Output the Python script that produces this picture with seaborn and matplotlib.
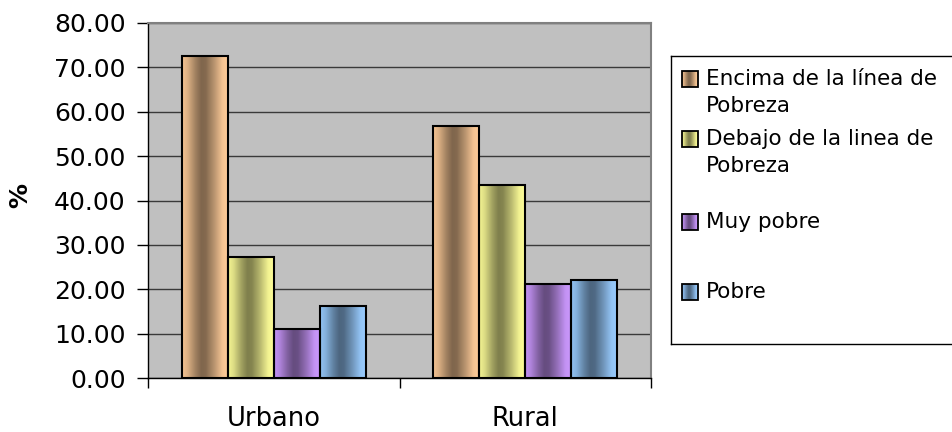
import textwrap
import numpy as np
import pandas as pd
import matplotlib
matplotlib.use("Agg")
import matplotlib.pyplot as plt
import seaborn as sns
from matplotlib.colors import to_rgb
from matplotlib.patches import Rectangle

# -------------------------------
# DATA
# -------------------------------
zonas = ["Urbano", "Rural"]
grupos = ["Encima de la línea de Pobreza", "Debajo de la linea de Pobreza",
          "Muy pobre", "Pobre"]
urbano = [72.6, 27.3, 11.0, 16.2]
rural = [56.8, 43.5, 21.2, 22.1]
y_ticks = [0, 10, 20, 30, 40, 50, 60, 70, 80]

colores = ["#FFCC99", "#FFFF99", "#CC99FF", "#99CCFF"]

df = pd.DataFrame({
    "zona": np.repeat(zonas, len(grupos)),
    "grupo": grupos * len(zonas),
    "valor": urbano + rural,
})

# brightness profile across a bar (cylinder look)
perfil_t = [0.0, 0.12, 0.30, 0.42, 0.52, 0.70, 0.88, 1.0]
perfil_b = [0.96, 0.86, 0.62, 0.50, 0.52, 0.72, 0.95, 1.0]


def gradiente(color, n=64):
    t = np.linspace(0, 1, n)
    b = np.interp(t, perfil_t, perfil_b)
    rgb = np.array(to_rgb(color))
    return np.clip(b[:, None] * rgb[None, :], 0, 1)[None, :, :]


# -------------------------------
# PLOT
# -------------------------------
sns.set_style("white", {"text.color": "black", "axes.labelcolor": "black",
                        "xtick.color": "black", "ytick.color": "black"})
plt.rcParams["font.family"] = ["DejaVu Sans"]

W, H = 952, 432
fig = plt.figure(figsize=(W / 100, H / 100), dpi=100)
ax = fig.add_axes([148 / W, 1 - 378 / H, (651 - 148) / W, (378 - 23) / H])
ax.set_facecolor("#C0C0C0")
ax.set_axisbelow(True)

sns.barplot(data=df, x="zona", y="valor", hue="grupo", order=zonas,
            hue_order=grupos, palette=colores, saturation=1, width=0.73,
            legend=False, ax=ax)

for p in list(ax.patches):
    x0, y0 = p.get_x(), p.get_y()
    w, h = p.get_width(), p.get_height()
    im = ax.imshow(gradiente(p.get_facecolor()[:3]),
                   extent=[x0, x0 + w, y0, y0 + h], aspect="auto",
                   interpolation="bilinear", zorder=3)
    im.set_clip_path(p)
    p.set_facecolor("none")
    p.set_edgecolor("black")
    p.set_linewidth(1.5)
    p.set_zorder(4)

ax.set_xlim(-0.5, 1.5)
ax.set_ylim(0, 80)
ax.set_aspect("auto")

ax.set_yticks(y_ticks)
ax.set_yticklabels([f"{v:.2f}" for v in y_ticks])
ax.yaxis.grid(True, color="#3a3a3a", lw=1)
ax.tick_params(axis="y", direction="out", length=8, width=1, color="black",
               labelcolor="black", labelsize=18, pad=8, left=True)

ax.set_xticks([0, 1])
ax.set_xticklabels(zonas)
ax.set_xticks([-0.5, 0.5, 1.5], minor=True)
ax.tick_params(axis="x", which="major", length=0, labelsize=18.5, pad=20,
               labelcolor="black")
ax.tick_params(axis="x", which="minor", direction="out", length=7, width=1,
               color="black", bottom=True)

ax.set_xlabel("")
ax.set_ylabel("%", fontsize=18, fontweight="bold", color="black")
ax.yaxis.set_label_coords(-0.231, 0.515)

for s in ["left", "bottom"]:
    ax.spines[s].set_color("black")
    ax.spines[s].set_linewidth(1)
for s in ["top", "right"]:
    ax.spines[s].set_color("#808080")
    ax.spines[s].set_linewidth(1.5)

# -------------------------------
# LEGEND (drawn by hand, gradient swatches)
# -------------------------------
lg = fig.add_axes([671 / W, 1 - 344 / H, 310 / W, 288 / H])
lg.set_xticks([])
lg.set_yticks([])
lg.set_facecolor("white")
for s in lg.spines.values():
    s.set_color("black")
    s.set_linewidth(1)

baselines = [29, 89, 172, 242]
for grupo, color, yb in zip(grupos, colores, baselines):
    yc = yb - 6
    r = Rectangle((11, yc - 8), 16, 16, facecolor="none",
                  edgecolor="black", lw=1.3, zorder=4)
    lg.add_patch(r)
    im = lg.imshow(gradiente(color), extent=[11, 27, yc + 8, yc - 8],
                   aspect="auto", interpolation="bilinear", zorder=3)
    im.set_clip_path(r)
    for k, linea in enumerate(textwrap.wrap(grupo, 21)):
        lg.text(35, yb + 26.7 * k, linea, fontsize=15.5, ha="left",
                va="baseline", color="black")
lg.set_xlim(0, 310)
lg.set_ylim(288, 0)
lg.set_aspect("auto")

fig.savefig("out.png", dpi=100)
plt.close()
